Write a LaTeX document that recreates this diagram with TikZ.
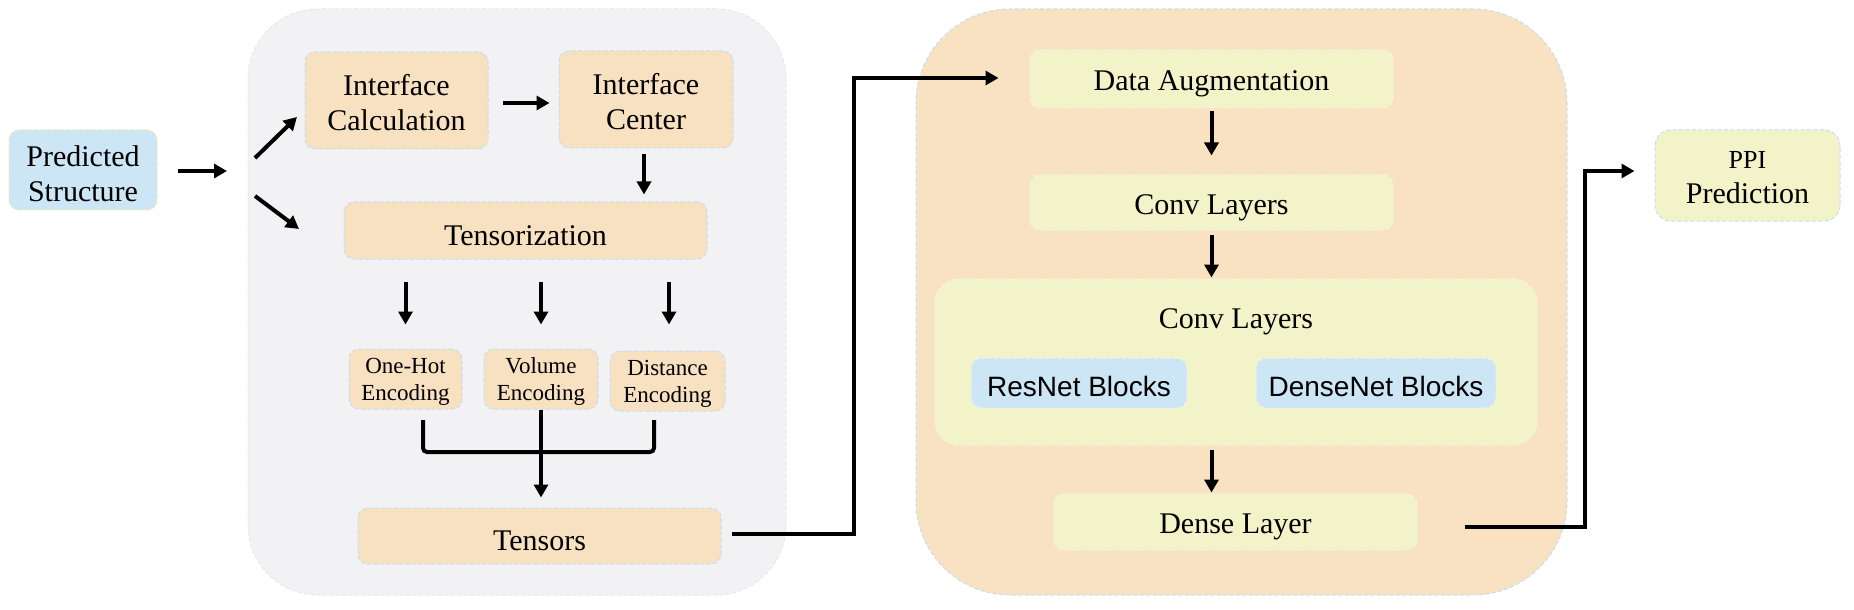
\documentclass[tikz,border=0pt]{standalone}
\usepackage{fontspec}
\setmainfont{Liberation Serif}
\newfontfamily\sansf{Liberation Sans}
\usetikzlibrary{arrows.meta,calc}
\definecolor{grayfill}{HTML}{F2F2F4}
\definecolor{grayedge}{HTML}{E8E8EC}
\definecolor{orangefill}{HTML}{F9E2C1}
\definecolor{boxorange}{HTML}{F8E1C1}
\definecolor{yellowfill}{HTML}{F2F3C8}
\definecolor{bluefill}{HTML}{CDE6F5}
\definecolor{blueedge}{HTML}{C2E0F0}
\definecolor{yellowedge}{HTML}{EEEAB0}
\definecolor{paleedge}{HTML}{F4F4E6}
\tikzset{
  dbox/.style={rounded corners=5pt, draw=blueedge, dash pattern=on 2pt off 1.2pt,
    line width=0.5pt, inner sep=0pt},
  lbl/.style={align=center, inner sep=0pt, yshift=-2pt, font=\fontsize{15}{17.5}\selectfont},
  txt/.style={label={[lbl, yshift=0.75pt]center:{#1}}},
  stxt/.style={label={[lbl, yshift=-0.5pt]center:{#1}}},
  etxt/.style={label={[lbl, yshift=0.5pt, font=\fontsize{11.5}{13.5}\selectfont]center:{#1}}},
  btxt/.style={label={[lbl, yshift=0.5pt, font=\sansf\fontsize{14}{17}\selectfont]center:{#1}}},
  obox/.style={dbox, fill=boxorange},
  ybox/.style={dbox, fill=yellowfill, draw=paleedge},
  bbox/.style={dbox, fill=bluefill, draw=paleedge},
  panel/.style={draw, dash pattern=on 2pt off 1.2pt, line width=0.5pt, inner sep=0pt},
  conn/.style={line width=2pt, black},
  arr/.style={conn, -{Triangle[length=6.5pt,width=7pt]}},
}
\begin{document}
\begin{tikzpicture}[x=0.5pt,y=-0.5pt]
\useasboundingbox (0,0) rectangle (1854,610);

% panels
\node[panel, fill=grayfill, draw=grayedge, rounded corners=35pt,
  minimum width=269pt, minimum height=293pt] (gpanel) at (517,302) {};
\node[panel, fill=orangefill, draw=blueedge, rounded corners=47pt,
  minimum width=325.5pt, minimum height=293pt] (opanel) at (1241.5,302) {};

% left
\node[dbox, fill=bluefill, draw=yellowedge, minimum width=74pt, minimum height=40pt,
  label={[lbl]center:{Predicted\\Structure}}] (pred) at (83,170) {};

\node[obox, minimum width=91.5pt, minimum height=48.5pt, txt={Interface\\Calculation}] (icalc) at (396.5,100.5) {};
\node[obox, minimum width=87pt, minimum height=48.5pt, txt={Interface\\Center}] (icent) at (646,99.5) {};
\node[obox, minimum width=181.5pt, minimum height=28.5pt, stxt={Tensorization}] (tens) at (525.5,230.5) {};
\node[obox, minimum width=56.5pt, minimum height=30pt, etxt={One-Hot\\Encoding}] (onehot) at (405.5,379) {};
\node[obox, minimum width=57pt, minimum height=30pt, etxt={Volume\\Encoding}] (vol) at (541,379) {};
\node[obox, minimum width=57.5pt, minimum height=30pt, etxt={Distance\\Encoding}] (dist) at (667.5,381) {};
\node[obox, minimum width=181.5pt, minimum height=28pt, stxt={Tensors}] (tensors) at (539.5,536) {};

% right panel
\node[ybox, minimum width=181.5pt, minimum height=29pt, stxt={Data Augmentation}] (aug) at (1211.5,79) {};
\node[ybox, minimum width=181.5pt, minimum height=27.5pt, stxt={Conv Layers}] (conv1) at (1211.5,202.5) {};
\node[ybox, rounded corners=12pt, minimum width=301pt, minimum height=83pt] (convp) at (1236,362) {};
\node[lbl, yshift=0pt] (convlab) at (1236,318) {Conv Layers};
\node[bbox, minimum width=108pt, minimum height=25pt, btxt={ResNet Blocks}] (resnet) at (1079,383) {};
\node[bbox, minimum width=120pt, minimum height=25pt, btxt={DenseNet Blocks}] (densenet) at (1376,383) {};
\node[ybox, minimum width=181.5pt, minimum height=28pt, stxt={Dense Layer}] (dense) at (1235.5,522) {};

\node[ybox, draw=blueedge, rounded corners=8pt, minimum width=92.5pt, minimum height=45.5pt,
  txt={{\fontsize{13}{17.5}\selectfont PPI}\\Prediction}] (ppi) at (1747.5,175.5) {};

% coordinates
\coordinate (fork) at (227,171);
\coordinate (up0) at (255,158);
\coordinate (up1) at (297,117);
\coordinate (dn0) at (255,196);
\coordinate (dn1) at (299,229);
\coordinate (b1) at (423,420);
\coordinate (b2) at (654,420);
\coordinate (t1) at (854,534);
\coordinate (d1) at (1585,527);

% connectors
\draw[arr, shorten <=10pt] (pred.east |- fork) -- (fork);
\draw[arr] (up0) -- (up1);
\draw[arr] (dn0) -- (dn1);
\draw[arr, shorten <=7pt, shorten >=4.5pt] ([yshift=-1.25pt]icalc.east) -- ([yshift=-1.25pt]icalc.east -| icent.west);
\draw[arr, shorten <=3pt, shorten >=3.5pt] ([xshift=-1pt]icent.south) -- ([xshift=-1pt]icent.south |- tens.north);
\draw[arr, shorten <=11pt, shorten >=12pt] (onehot.north |- tens.south) -- (onehot.north);
\draw[arr, shorten <=11pt, shorten >=12pt] (vol.north |- tens.south) -- (vol.north);
\draw[arr, shorten <=11pt, shorten >=13pt] ([xshift=0.75pt]dist.north |- tens.south) -- ([xshift=0.75pt]dist.north);
\draw[conn, rounded corners=2pt] (b1) -- ++(0,32) -| (b2);
\draw[arr, shorten >=5pt] (vol.south) -- (vol.south |- tensors.north);
\draw[arr, shorten <=5pt, shorten >=15.5pt] ([yshift=1pt]tensors.east) -- (t1) |- ([yshift=0.5pt]aug.west);

\draw[arr, shorten <=1.5pt, shorten >=9.5pt] (aug.south) -- (aug.south |- conv1.north);
\draw[arr, shorten <=2pt, shorten >=0.5pt] (conv1.south) -- (conv1.south |- convp.north);
\draw[arr, shorten <=2pt, shorten >=0.5pt] (conv1.south |- convp.south) -- (conv1.south |- dense.north);
\draw[arr, shorten <=23.5pt, shorten >=10pt] ([yshift=-2.5pt]dense.east) -- (d1) |- ([yshift=2.25pt]ppi.west);
\end{tikzpicture}
\end{document}
